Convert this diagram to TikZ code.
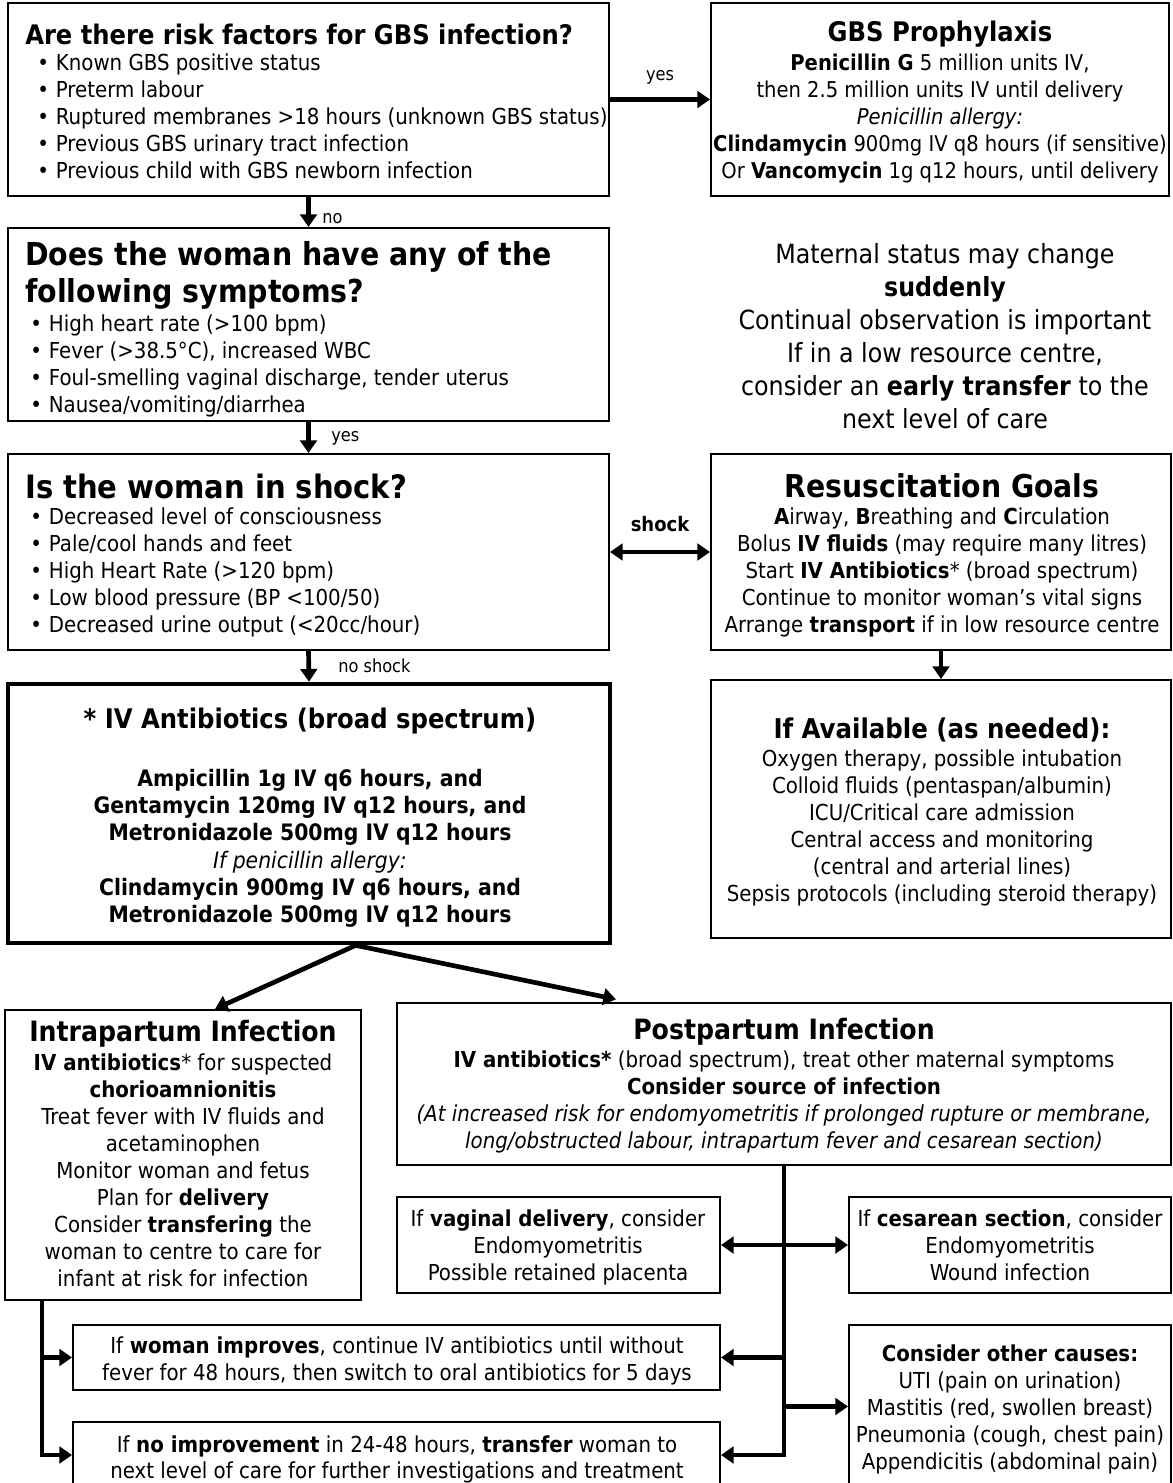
\documentclass[tikz,border=0pt]{standalone}
\usepackage{fontspec}
\setmainfont{DejaVu Sans Condensed}
\usetikzlibrary{fit,arrows.meta}
\newcommand\bodyf{\fontsize{16.5}{20.25}\selectfont}
\newcommand\bl{\makebox[14pt][l]{•}}
\tikzset{
  x=0.75pt, y=-0.75pt,
  box/.style={draw, line width=1.5pt, inner sep=0pt, rectangle},
  thickbox/.style={box, line width=3.5pt},
  txt/.style={inner sep=0pt, font=\bodyf},
  ttl/.style={inner sep=0pt, font=\fontsize{#1}{#1}\selectfont\bfseries},
  lbl/.style={inner sep=0pt, font=\fontsize{13.5}{15}\selectfont},
  conn/.style={line width=3.5pt},
  arr/.style={conn, -{Triangle[length=9.5pt,width=12.5pt]}},
  darr/.style={conn, {Triangle[length=9.5pt,width=12.5pt]}-{Triangle[length=9.5pt,width=12.5pt]}},
}
\begin{document}
\begin{tikzpicture}
\useasboundingbox (0,0) rectangle (1172,1483);
\fill[white] (0,0) rectangle (1172,1483);

% ---------- Risk factors
\node[box, fit={(8,3) (609,196)}] (risk) {};
\node[ttl=20.2, anchor=west] (riskt) at (25,34) {Are there risk factors for GBS infection?};
\node[txt, anchor=north west, align=left] (riskl) at (37,54) {%
\bl Known GBS positive status\\
\bl Preterm labour\\
\bl Ruptured membranes >18 hours (unknown GBS status)\\
\bl Previous GBS urinary tract infection\\
\bl Previous child with GBS newborn infection};

% ---------- GBS prophylaxis
\node[box, fit={(711,3) (1169,196)}] (gbs) {};
\node[ttl=20.25, anchor=center] (gbst) at (940,34) {GBS Prophylaxis};
\node[txt, anchor=north, align=center, font=\fontsize{16.3}{20.25}\selectfont] (gbsl) at (940,54) {%
\textbf{Penicillin G} 5 million units IV,\\
then 2.5 million units IV until delivery\\
\textit{Penicillin allergy:}\\
\textbf{Clindamycin} 900mg IV q8 hours (if sensitive)\\
Or \textbf{Vancomycin} 1g q12 hours, until delivery};

% ---------- Symptoms
\node[box, fit={(8,228) (609,421)}] (sym) {};
\node[inner sep=0pt, anchor=north west, align=left, font=\fontsize{23.7}{27.75}\selectfont\bfseries] (symt) at (25,241) {Does the woman have any of the\\following symptoms?};
\node[txt, anchor=north west, align=left] (syml) at (30,315) {%
\bl High heart rate (>100 bpm)\\
\bl Fever (>38.5°C), increased WBC\\
\bl Foul-smelling vaginal discharge, tender uterus\\
\bl Nausea/vomiting/diarrhea};

% ---------- Maternal status note
\node[inner sep=0pt, anchor=north, align=center, font=\fontsize{19.8}{24.75}\selectfont] (mat) at (945,243) {%
Maternal status may change\\
\textbf{suddenly}\\
Continual observation is important\\
If in a low resource centre,\\
consider an \textbf{early transfer} to the\\
next level of care};

% ---------- Shock
\node[box, fit={(8,454) (609,650)}] (shk) {};
\node[ttl=24.2, anchor=west] (shkt) at (25,486) {Is the woman in shock?};
\node[txt, anchor=north west, align=left] (shkl) at (30,508) {%
\bl Decreased level of consciousness\\
\bl Pale/cool hands and feet\\
\bl High Heart Rate (>120 bpm)\\
\bl Low blood pressure (BP <100/50)\\
\bl Decreased urine output (<20cc/hour)};

% ---------- Resuscitation goals
\node[box, fit={(711,454) (1171,650)}] (res) {};
\node[ttl=23.6, anchor=center] (rest) at (942,486) {Resuscitation Goals};
\node[txt, anchor=north, align=center] (resl) at (942,508) {%
\textbf{A}irway, \textbf{B}reathing and \textbf{C}irculation\\
Bolus \textbf{IV fluids} (may require many litres)\\
Start \textbf{IV Antibiotics}* (broad spectrum)\\
Continue to monitor woman’s vital signs\\
Arrange \textbf{transport} if in low resource centre};

% ---------- IV antibiotics
\node[thickbox, fit={(8,684) (610,943)}] (ivb) {};
\node[ttl=20.25, anchor=center] (ivbt) at (310,721) {* IV Antibiotics (broad spectrum)};
\node[txt, anchor=north, align=center, font=\fontsize{17}{20.4}\selectfont] (ivbl) at (310,769) {%
\textbf{Ampicillin 1g IV q6 hours, and}\\
\textbf{Gentamycin 120mg IV q12 hours, and}\\
\textbf{Metronidazole 500mg IV q12 hours}\\
\textit{If penicillin allergy:}\\
\textbf{Clindamycin 900mg IV q6 hours, and}\\
\textbf{Metronidazole 500mg IV q12 hours}};

% ---------- If available
\node[box, fit={(711,680) (1171,938)}] (avl) {};
\node[ttl=20.4, anchor=center] (avlt) at (942,730) {If Available (as needed):};
\node[txt, anchor=north, align=center] (avll) at (942,750) {%
Oxygen therapy, possible intubation\\
Colloid fluids (pentaspan/albumin)\\
ICU/Critical care admission\\
Central access and monitoring\\
(central and arterial lines)\\
Sepsis protocols (including steroid therapy)};

% ---------- Intrapartum
\node[box, fit={(5,1010) (361,1300)}] (ipi) {};
\node[ttl=21, anchor=center] (ipit) at (183,1034) {Intrapartum Infection};
\node[txt, anchor=north, align=center] (ipil) at (183,1054) {%
\textbf{IV antibiotics}* for suspected\\
\textbf{chorioamnionitis}\\
Treat fever with IV fluids and\\
acetaminophen\\
Monitor woman and fetus\\
Plan for \textbf{delivery}\\
Consider \textbf{transfering} the\\
woman to centre to care for\\
infant at risk for infection};

% ---------- Postpartum
\node[box, fit={(397,1003) (1171,1165)}] (ppi) {};
\node[ttl=21, anchor=center] (ppit) at (784,1032) {Postpartum Infection};
\node[txt, anchor=north, align=center] (ppil) at (784,1051) {%
\textbf{IV antibiotics*} (broad spectrum), treat other maternal symptoms\\
\textbf{Consider source of infection}\\
\textit{(At increased risk for endomyometritis if prolonged rupture or membrane,}\\
\textit{long/obstructed labour, intrapartum fever and cesarean section)}};

% ---------- Vaginal / cesarean
\node[box, fit={(397,1197) (720,1293)}] (vag) {};
\node[txt, anchor=north, align=center] (vagl) at (558,1210) {%
If \textbf{vaginal delivery}, consider\\
Endomyometritis\\
Possible retained placenta};
\node[box, fit={(849,1197) (1171,1293)}] (ces) {};
\node[txt, anchor=north, align=center] (cesl) at (1010,1210) {%
If \textbf{cesarean section}, consider\\
Endomyometritis\\
Wound infection};

% ---------- Improves / no improvement
\node[box, fit={(73,1325) (720,1390)}] (imp) {};
\node[txt, anchor=north, align=center] (impl) at (397,1337) {%
If \textbf{woman improves}, continue IV antibiotics until without\\
fever for 48 hours, then switch to oral antibiotics for 5 days};
\node[box, fit={(73,1422) (720,1488)}] (noi) {};
\node[txt, anchor=north, align=center] (noil) at (397,1435) {%
If \textbf{no improvement} in 24-48 hours, \textbf{transfer} woman to\\
next level of care for further investigations and treatment};

% ---------- Other causes
\node[box, fit={(849,1325) (1171,1488)}] (oth) {};
\node[txt, anchor=north, align=center] (othl) at (1010,1345) {%
\textbf{Consider other causes:}\\
UTI (pain on urination)\\
Mastitis (red, swollen breast)\\
Pneumonia (cough, chest pain)\\
Appendicitis (abdominal pain)};

% ---------- Connectors
\draw[arr] (risk.east) -- (gbs.west);
\node[lbl] (yes1) at (660,77) {yes};
\draw[arr] (risk.south) -- (sym.north);
\node[lbl, anchor=west] (no1) at (322,219) {no};
\draw[arr] (sym.south) -- (shk.north);
\node[lbl, anchor=west] (yes2) at (331,438) {yes};
\draw[darr] (shk.east) -- (res.west);
\node[inner sep=0pt, font=\fontsize{15}{16}\selectfont\bfseries] (shocklbl) at (660,524) {shock};
\draw[arr] (shk.south) -- (ivb.north);
\node[lbl, anchor=west] (noshock) at (338,666) {no shock};
\draw[arr] (res.south) -- (avl.north);

\coordinate (split) at ([xshift=35pt]ivb.south);
\draw[arr] (split) -- ([xshift=24pt]ipi.north);
\draw[arr] (split) -- ([xshift=165pt, yshift=2pt]ppi.north west);

\draw[arr] (ppi.south) |- (noi.east);
\draw[darr] (vag.east) -- (ces.west);
\draw[arr] (ppi.south |- imp.east) -- (imp.east);
\draw[arr] (ppi.south |- oth.west) -- (oth.west);

\coordinate (lft) at ([xshift=28.5pt]ipi.south west);
\draw[arr] (lft) |- (noi.west);
\draw[arr] (lft |- imp.west) -- (imp.west);
\end{tikzpicture}
\end{document}
